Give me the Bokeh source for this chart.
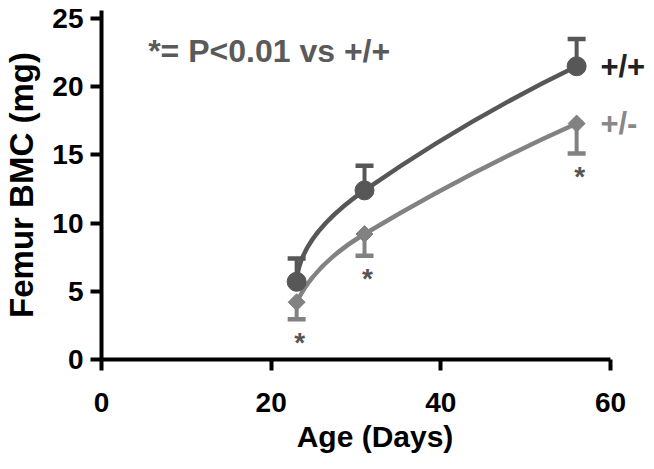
import numpy as np
from bokeh.plotting import figure
from bokeh.models import Range1d, ColumnDataSource, Label, FixedTicker
from bokeh.embed import file_html
from bokeh.resources import INLINE
from bokeh.core.properties import value

# ---- data ----
days = [23, 31, 56]
wt_bmc = [5.7, 12.4, 21.5]      # +/+
wt_sem = [1.7, 1.8, 2.0]
het_bmc = [4.2, 9.2, 17.3]      # +/-
het_sem = [1.25, 1.6, 2.2]
x_ticks = [0, 20, 40, 60]
y_ticks = [0, 5, 10, 15, 20, 25]
series_labels = ["+/+", "+/-"]
note_text = "*= P<0.01 vs +/+"
sig_marks = ["*", "*", "*"]

FONT = "Liberation Sans"
WT_COLOR = "#575757"
HET_COLOR = "#828282"

# pixel-per-unit factors used only to shape the smooth connecting curve
SX, SY = 8.5, 13.64


def smooth_segments(xs, ys, gain=1.4, blend=0.2):
    P = np.column_stack([np.asarray(xs, float) * SX, np.asarray(ys, float) * SY])
    c1 = P[1] - P[0]
    c2 = P[2] - P[1]
    u1 = c1 / np.linalg.norm(c1)
    u2 = c2 / np.linalg.norm(c2)
    d = (1 - blend) * u2 + blend * u1
    d /= np.linalg.norm(d)
    t1a = d * np.linalg.norm(c1) * gain
    t0 = 2 * c1 - t1a
    t1b = d * np.linalg.norm(c2)
    t2 = 2 * c2 - t1b
    starts = np.array([P[0], P[1]])
    ends = np.array([P[1], P[2]])
    cA = np.array([P[0] + t0 / 3, P[1] + t1b / 3])
    cB = np.array([P[1] - t1a / 3, P[2] - t2 / 3])
    sc = np.array([SX, SY])
    starts, ends, cA, cB = starts / sc, ends / sc, cA / sc, cB / sc
    return dict(x0=starts[:, 0], y0=starts[:, 1], x1=ends[:, 0], y1=ends[:, 1],
                cx0=cA[:, 0], cy0=cA[:, 1], cx1=cB[:, 0], cy1=cB[:, 1])


p = figure(width=650, height=461, output_backend="svg", toolbar_location=None,
           x_range=Range1d(0, 64.47), y_range=Range1d(0, 25.59),
           min_border_left=100, min_border_right=2, min_border_top=10,
           min_border_bottom=102)
p.outline_line_color = None
p.grid.visible = False
p.background_fill_color = "white"
p.border_fill_color = "white"

for ax in (p.xaxis[0], p.yaxis[0]):
    ax.axis_line_width = 4
    ax.axis_line_color = "black"
    ax.major_tick_line_width = 4
    ax.major_tick_line_color = "black"
    ax.major_tick_out = 11
    ax.major_tick_in = 0
    ax.minor_tick_line_color = None
    ax.major_label_text_font = FONT
    ax.major_label_text_font_style = "bold"
    ax.major_label_text_font_size = "28px"
    ax.major_label_text_color = "black"
    ax.axis_label_text_font = FONT
    ax.axis_label_text_font_style = "bold"
    ax.axis_label_text_color = "black"

p.xaxis.axis_label_text_font_size = "30px"
p.yaxis.axis_label_text_font_size = "33px"
p.xaxis.ticker = FixedTicker(ticks=x_ticks)
p.yaxis.ticker = FixedTicker(ticks=y_ticks)
p.xaxis.bounds = (0, 60)
p.xaxis.axis_label = "Age (Days)"
p.yaxis.axis_label = "Femur BMC (mg)"
p.xaxis.major_label_standoff = 22
p.yaxis.major_label_standoff = 7
p.xaxis.axis_label_standoff = 5
p.yaxis.axis_label_standoff = 9

# smooth connecting curves
for ys, col, g in ((wt_bmc, WT_COLOR, 1.4), (het_bmc, HET_COLOR, 1.2)):
    seg = ColumnDataSource(smooth_segments(days, ys, gain=g))
    p.bezier(x0="x0", y0="y0", x1="x1", y1="y1", cx0="cx0", cy0="cy0",
             cx1="cx1", cy1="cy1", source=seg, line_color=col, line_width=4.5)

# error bars: +/+ upward, +/- downward
wt_top = [v + e for v, e in zip(wt_bmc, wt_sem)]
het_bot = [v - e for v, e in zip(het_bmc, het_sem)]
p.segment(x0=days, y0=wt_bmc, x1=days, y1=wt_top, line_color=WT_COLOR, line_width=4)
p.scatter(x=days, y=wt_top, marker="dash", size=18, line_color=WT_COLOR, line_width=4.5)
p.segment(x0=days, y0=het_bmc, x1=days, y1=het_bot, line_color=HET_COLOR, line_width=4)
p.scatter(x=days, y=het_bot, marker="dash", size=18, line_color=HET_COLOR, line_width=4.5)

# markers
p.scatter(x=days, y=wt_bmc, marker="circle", size=19, fill_color=WT_COLOR,
          line_color=WT_COLOR)
p.scatter(x=days, y=het_bmc, marker="square", angle=np.pi / 4, size=12,
          fill_color=HET_COLOR, line_color=HET_COLOR)

# significance asterisks below +/- error bars
p.text(x=days, y=het_bot, text=sig_marks, text_font=value(FONT),
       text_font_style="bold", text_font_size="28px", text_color="#555555",
       text_align="center", text_baseline="alphabetic", x_offset=3, y_offset=23)

# series labels next to last points
p.text(x=[days[-1] + 2.8], y=[wt_bmc[-1]], text=[series_labels[0]],
       text_font=value(FONT), text_font_style="bold", text_font_size="31px",
       text_color="#222222", text_align="left", text_baseline="middle")
p.text(x=[days[-1] + 2.8], y=[het_bmc[-1]], text=[series_labels[1]],
       text_font=value(FONT), text_font_style="bold", text_font_size="31px",
       text_color="#888888", text_align="left", text_baseline="middle")

# note
p.add_layout(Label(x=5.5, y=22.65, text=note_text, text_font=FONT,
                   text_font_style="bold", text_font_size="32px",
                   text_color="#5a5a5a", text_baseline="alphabetic"))

open("out.html", "w").write(file_html(p, INLINE))
